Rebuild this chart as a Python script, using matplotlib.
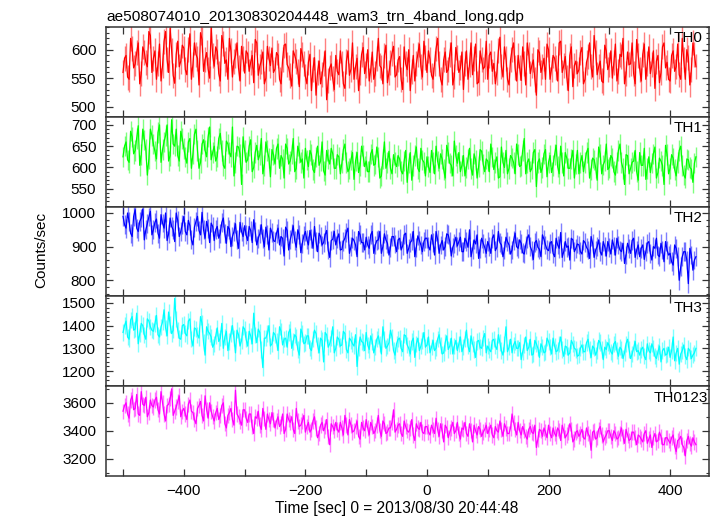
import numpy as np
import matplotlib
matplotlib.use("Agg")
import matplotlib.pyplot as plt
from matplotlib.ticker import MultipleLocator

plt.rcParams['font.family'] = ['Liberation Sans', 'DejaVu Sans']

title = "ae508074010_20130830204448_wam3_trn_4band_long.qdp"
xlabel = "Time [sec] 0 = 2013/08/30 20:44:48"
ylabel = "Counts/sec"

t_start = -500
t_step = 2.5

labels = ["TH0", "TH1", "TH2", "TH3", "TH0123"]
colors = ["#ff0000", "#00ff00", "#0000ff", "#00ffff", "#ff00ff"]
errors = [22, 24, 28, 36, 55]
ylims = [(482, 640), (508, 719), (752, 1019), (1133, 1529), (3076, 3719)]
ymajor = [50, 50, 100, 100, 200]
yminor = [10, 10, 20, 20, 100]

# bins at -500, -495, ...
th0_a = [560, 590, 548, 602, 575, 612, 558, 596, 570, 625,
         585, 548, 610, 572, 632, 560, 598, 541, 615, 580,
         603, 556, 628, 574, 592, 538, 618, 583, 566, 640,
         571, 597, 545, 611, 582, 620, 552, 590, 568, 606,
         559, 593, 578, 542, 612, 571, 596, 550, 585, 603,
         566, 590, 540, 608, 574, 555, 598, 580, 535, 592,
         553, 578, 528, 586, 560, 540, 575, 512, 568, 549,
         590, 556, 575, 532, 598, 566, 548, 585, 560, 604,
         572, 545, 596, 558, 620, 568, 590, 542, 578, 606,
         556, 588, 530, 575, 600, 562, 545, 592, 570, 615,
         560, 583, 548, 602, 575, 538, 596, 565, 612, 553,
         587, 568, 530, 598, 574, 556, 610, 543, 582, 570,
         548, 596, 576, 560, 622, 552, 585, 538, 600, 568,
         590, 546, 575, 612, 558, 582, 520, 595, 570, 548,
         600, 566, 585, 545, 615, 572, 552, 590, 535, 580,
         565, 604, 548, 588, 570, 625, 556, 580, 542, 598,
         574, 550, 610, 562, 588, 540, 596, 575, 558, 618,
         566, 592, 548, 605, 574, 532, 590, 560, 612, 578,
         545, 598, 570, 556, 620, 548, 586, 565, 592]
# bins at -497.5, -492.5, ...
th0_b = [585, 552, 620, 568, 595, 540, 605, 578, 632, 560,
         598, 575, 545, 615, 582, 638, 555, 592, 570, 608,
         565, 600, 548, 612, 585, 630, 562, 595, 550, 590,
         605, 558, 625, 576, 548, 598, 580, 612, 545, 585,
         598, 562, 590, 618, 555, 580, 540, 606, 572, 560,
         595, 548, 582, 610, 568, 536, 590, 562, 602, 575,
         540, 592, 566, 520, 580, 556, 598, 545, 575, 530,
         562, 598, 540, 580, 555, 612, 570, 528, 592, 558,
         600, 565, 548, 585, 572, 540, 608, 560, 594, 552,
         582, 548, 605, 565, 528, 590, 575, 610, 552, 586,
         598, 555, 575, 620, 548, 582, 560, 592, 538, 604,
         560, 596, 575, 548, 612, 585, 540, 598, 566, 615,
         590, 562, 540, 598, 570, 605, 548, 582, 612, 545,
         568, 605, 538, 592, 572, 548, 600, 560, 585, 610,
         548, 590, 568, 612, 560, 588, 528, 605, 572, 558,
         595, 540, 578, 612, 552, 596, 570, 545, 608, 565,
         598, 578, 545, 592, 620, 558, 574, 612, 540, 590,
         545, 610, 575, 558, 598, 580, 542, 605, 568, 548,
         590, 562, 610, 548, 582, 600, 538, 612, 570]

th1_a = [625, 660, 612, 672, 640, 698, 630, 665, 582, 690,
         655, 620, 700, 642, 675, 615, 712, 650, 628, 685,
         645, 610, 668, 632, 690, 598, 655, 640, 672, 618,
         650, 626, 680, 605, 662, 635, 695, 612, 648, 560,
         640, 618, 665, 600, 652, 630, 585, 660, 622, 642,
         608, 655, 628, 575, 645, 615, 668, 598, 635, 620,
         645, 602, 630, 588, 650, 615, 592, 640, 608, 632,
         598, 625, 610, 655, 590, 618, 572, 635, 605, 628,
         615, 590, 642, 608, 625, 580, 660, 612, 598, 630,
         602, 620, 585, 640, 610, 570, 628, 598, 645, 612,
         625, 588, 612, 650, 598, 620, 575, 635, 605, 662,
         610, 590, 628, 600, 645, 582, 618, 602, 638, 590,
         615, 655, 595, 625, 578, 612, 640, 598, 622, 585,
         630, 605, 668, 612, 590, 635, 555, 620, 600, 642,
         612, 588, 630, 602, 650, 580, 622, 598, 640, 608,
         585, 628, 612, 645, 595, 618, 570, 632, 606, 655,
         600, 622, 582, 640, 612, 560, 628, 598, 615, 590,
         635, 605, 572, 625, 610, 648, 588, 615, 560, 630,
         598, 622, 580, 640, 605, 575, 618, 596, 610]
th1_b = [650, 618, 685, 632, 668, 605, 690, 642, 620, 675,
         638, 682, 612, 660, 700, 628, 655, 690, 615, 668,
         625, 660, 598, 678, 640, 612, 665, 625, 695, 635,
         615, 668, 640, 598, 655, 625, 580, 650, 632, 672,
         612, 650, 590, 635, 618, 668, 605, 640, 578, 630,
         645, 598, 620, 655, 608, 632, 590, 650, 612, 575,
         618, 640, 595, 625, 605, 660, 582, 620, 645, 598,
         630, 585, 642, 612, 598, 635, 615, 588, 650, 602,
         590, 632, 605, 648, 575, 620, 598, 638, 585, 612,
         628, 592, 615, 565, 635, 605, 648, 590, 618, 580,
         602, 640, 585, 615, 632, 595, 652, 610, 580, 628,
         635, 605, 580, 620, 598, 632, 575, 642, 608, 620,
         590, 625, 612, 575, 648, 600, 585, 628, 612, 655,
         602, 640, 585, 620, 598, 642, 612, 588, 632, 578,
         628, 605, 652, 585, 612, 635, 598, 620, 575, 640,
         612, 590, 635, 575, 622, 600, 648, 585, 615, 595,
         628, 590, 612, 655, 598, 630, 585, 612, 640, 570,
         605, 645, 598, 588, 632, 575, 622, 605, 652, 585,
         630, 595, 612, 650, 582, 620, 600, 565, 625]

th2_a = [990, 955, 975, 930, 1010, 945, 985, 920, 968, 1005,
         950, 982, 925, 970, 1000, 938, 960, 915, 978, 945,
         990, 935, 962, 905, 975, 948, 1002, 925, 955, 970,
         918, 960, 940, 985, 910, 952, 930, 968, 895, 945,
         962, 918, 948, 980, 905, 938, 925, 958, 890, 942,
         915, 955, 930, 872, 948, 920, 962, 898, 935, 910,
         945, 905, 925, 960, 885, 930, 912, 948, 868, 922,
         905, 938, 892, 925, 955, 900, 918, 870, 935, 912,
         928, 895, 945, 905, 920, 880, 938, 910, 898, 930,
         885, 925, 902, 940, 895, 918, 870, 932, 905, 915,
         925, 890, 912, 945, 880, 918, 900, 935, 872, 910,
         902, 928, 885, 915, 950, 892, 908, 865, 925, 898,
         915, 880, 935, 898, 912, 870, 928, 905, 890, 940,
         895, 910, 878, 925, 900, 862, 918, 892, 935, 905,
         888, 915, 870, 905, 942, 885, 898, 860, 920, 895,
         905, 878, 912, 890, 930, 868, 900, 885, 915, 872,
         898, 920, 875, 905, 885, 850, 910, 880, 925, 890,
         870, 905, 885, 915, 860, 895, 875, 910, 855, 890,
         880, 845, 895, 800, 870, 885, 790, 875, 860]
th2_b = [965, 1000, 940, 990, 955, 975, 1012, 950, 988, 935,
         972, 940, 995, 955, 918, 985, 950, 1000, 930, 965,
         945, 978, 920, 958, 990, 935, 950, 975, 912, 960,
         950, 925, 972, 938, 960, 900, 945, 920, 972, 930,
         935, 960, 912, 945, 925, 965, 900, 935, 955, 918,
         940, 905, 925, 958, 890, 938, 918, 950, 882, 932,
         920, 948, 895, 915, 940, 905, 935, 890, 918, 945,
         925, 890, 915, 942, 880, 925, 905, 945, 912, 890,
         905, 935, 880, 918, 945, 900, 920, 875, 930, 908,
         920, 890, 935, 880, 912, 945, 898, 918, 885, 925,
         900, 935, 875, 922, 905, 890, 938, 915, 898, 928,
         915, 885, 925, 898, 870, 920, 935, 895, 910, 880,
         900, 925, 888, 945, 905, 890, 915, 878, 918, 900,
         920, 882, 905, 935, 888, 912, 898, 870, 922, 892,
         910, 880, 925, 895, 868, 915, 902, 925, 885, 908,
         885, 918, 898, 865, 910, 890, 920, 875, 900, 915,
         878, 902, 925, 890, 910, 875, 895, 918, 868, 905,
         895, 862, 910, 880, 900, 925, 870, 890, 915, 875,
         855, 905, 870, 840, 885, 860, 895, 830, 870]

th3_a = [1370, 1420, 1340, 1440, 1385, 1320, 1410, 1360, 1430, 1395,
         1375, 1445, 1350, 1415, 1390, 1460, 1365, 1520, 1380, 1340,
         1405, 1355, 1430, 1310, 1385, 1345, 1410, 1270, 1375, 1350,
         1320, 1390, 1345, 1300, 1375, 1330, 1400, 1280, 1360, 1335,
         1385, 1310, 1355, 1455, 1325, 1370, 1215, 1345, 1400, 1320,
         1360, 1290, 1375, 1340, 1305, 1385, 1330, 1350, 1270, 1365,
         1325, 1355, 1290, 1380, 1315, 1345, 1240, 1360, 1320, 1395,
         1300, 1340, 1315, 1365, 1280, 1335, 1310, 1220, 1350, 1325,
         1370, 1295, 1330, 1305, 1355, 1275, 1340, 1310, 1380, 1290,
         1320, 1345, 1285, 1355, 1300, 1330, 1260, 1345, 1310, 1370,
         1315, 1280, 1335, 1300, 1360, 1275, 1325, 1295, 1345, 1310,
         1290, 1350, 1305, 1380, 1285, 1320, 1260, 1335, 1300, 1365,
         1310, 1285, 1340, 1295, 1325, 1270, 1395, 1305, 1280, 1330,
         1300, 1250, 1315, 1290, 1340, 1275, 1320, 1260, 1305, 1285,
         1330, 1275, 1310, 1290, 1350, 1265, 1305, 1280, 1320, 1295,
         1270, 1315, 1285, 1340, 1260, 1300, 1290, 1325, 1250, 1295,
         1310, 1275, 1330, 1265, 1295, 1280, 1340, 1255, 1300, 1285,
         1270, 1305, 1250, 1290, 1320, 1265, 1285, 1240, 1300, 1275,
         1260, 1350, 1280, 1230, 1290, 1265, 1300, 1255, 1280]
th3_b = [1400, 1350, 1425, 1380, 1455, 1365, 1400, 1340, 1420, 1380,
         1410, 1360, 1395, 1470, 1355, 1405, 1380, 1430, 1345, 1400,
         1365, 1420, 1340, 1390, 1360, 1440, 1325, 1395, 1365, 1305,
         1355, 1330, 1410, 1350, 1290, 1365, 1345, 1380, 1310, 1395,
         1340, 1375, 1320, 1360, 1385, 1295, 1345, 1365, 1310, 1370,
         1330, 1395, 1315, 1345, 1370, 1300, 1360, 1295, 1385, 1320,
         1355, 1300, 1340, 1365, 1280, 1335, 1370, 1305, 1345, 1280,
         1350, 1310, 1375, 1295, 1345, 1320, 1360, 1300, 1330, 1290,
         1315, 1355, 1280, 1340, 1320, 1395, 1300, 1325, 1350, 1270,
         1340, 1300, 1360, 1315, 1275, 1345, 1320, 1290, 1335, 1305,
         1350, 1305, 1290, 1340, 1315, 1280, 1355, 1310, 1275, 1335,
         1320, 1285, 1340, 1310, 1355, 1295, 1330, 1305, 1345, 1280,
         1295, 1335, 1310, 1360, 1290, 1320, 1285, 1340, 1315, 1300,
         1325, 1285, 1350, 1305, 1270, 1335, 1300, 1320, 1280, 1345,
         1305, 1345, 1285, 1320, 1295, 1310, 1270, 1335, 1300, 1265,
         1300, 1285, 1325, 1295, 1310, 1270, 1335, 1295, 1305, 1325,
         1285, 1320, 1290, 1305, 1255, 1320, 1295, 1275, 1330, 1290,
         1295, 1265, 1320, 1280, 1300, 1255, 1310, 1290, 1270, 1305,
         1290, 1245, 1300, 1275, 1315, 1250, 1290, 1270, 1300]

th0123_a = [3540, 3600, 3490, 3650, 3560, 3520, 3680, 3580, 3500, 3620,
            3570, 3640, 3520, 3600, 3470, 3590, 3700, 3540, 3610, 3500,
            3560, 3480, 3620, 3530, 3450, 3580, 3510, 3650, 3490, 3540,
            3470, 3560, 3510, 3600, 3420, 3530, 3480, 3690, 3500, 3440,
            3550, 3460, 3520, 3380, 3490, 3440, 3560, 3410, 3480, 3530,
            3420, 3500, 3450, 3380, 3520, 3460, 3410, 3560, 3430, 3470,
            3390, 3460, 3410, 3500, 3350, 3440, 3400, 3480, 3300, 3430,
            3460, 3390, 3420, 3510, 3370, 3440, 3400, 3470, 3340, 3420,
            3480, 3370, 3430, 3400, 3510, 3360, 3450, 3390, 3420, 3550,
            3410, 3450, 3360, 3430, 3390, 3480, 3330, 3420, 3460, 3380,
            3430, 3370, 3410, 3490, 3360, 3400, 3440, 3350, 3420, 3380,
            3460, 3340, 3410, 3380, 3450, 3320, 3400, 3430, 3360, 3410,
            3380, 3440, 3350, 3400, 3470, 3360, 3420, 3380, 3520, 3410,
            3460, 3370, 3400, 3340, 3430, 3380, 3280, 3410, 3360, 3390,
            3440, 3350, 3380, 3420, 3330, 3400, 3370, 3450, 3320, 3390,
            3360, 3410, 3340, 3380, 3260, 3400, 3350, 3430, 3320, 3370,
            3400, 3330, 3380, 3350, 3420, 3310, 3370, 3340, 3390, 3300,
            3360, 3320, 3400, 3340, 3280, 3380, 3330, 3360, 3300, 3350,
            3310, 3370, 3250, 3340, 3300, 3220, 3360, 3290, 3320]
th0123_b = [3580, 3520, 3620, 3550, 3660, 3510, 3590, 3640, 3530, 3580,
            3620, 3550, 3680, 3520, 3580, 3630, 3510, 3570, 3650, 3540,
            3520, 3590, 3540, 3480, 3560, 3610, 3470, 3550, 3600, 3500,
            3530, 3480, 3580, 3450, 3510, 3560, 3440, 3520, 3470, 3550,
            3490, 3520, 3430, 3500, 3540, 3410, 3490, 3520, 3450, 3480,
            3470, 3430, 3520, 3410, 3480, 3500, 3380, 3470, 3440, 3510,
            3430, 3390, 3470, 3420, 3380, 3460, 3430, 3360, 3450, 3400,
            3410, 3460, 3370, 3440, 3480, 3390, 3430, 3360, 3460, 3400,
            3420, 3460, 3380, 3440, 3400, 3470, 3380, 3420, 3460, 3390,
            3440, 3380, 3470, 3400, 3420, 3370, 3450, 3410, 3390, 3430,
            3390, 3440, 3380, 3410, 3450, 3320, 3420, 3390, 3460, 3400,
            3380, 3420, 3460, 3360, 3400, 3440, 3370, 3410, 3390, 3440,
            3410, 3370, 3430, 3390, 3410, 3450, 3380, 3420, 3460, 3370,
            3400, 3430, 3360, 3410, 3390, 3440, 3340, 3400, 3420, 3350,
            3380, 3420, 3360, 3400, 3440, 3350, 3390, 3410, 3340, 3400,
            3380, 3350, 3420, 3360, 3390, 3340, 3410, 3370, 3350, 3400,
            3360, 3400, 3340, 3380, 3360, 3410, 3330, 3390, 3350, 3370,
            3340, 3380, 3310, 3370, 3350, 3320, 3390, 3300, 3350, 3330,
            3350, 3290, 3330, 3360, 3280, 3330, 3310, 3350, 3300]

series = [(th0_a, th0_b), (th1_a, th1_b), (th2_a, th2_b),
          (th3_a, th3_b), (th0123_a, th0123_b)]


def interleave(a, b):
    out = np.empty(len(a) + len(b), dtype=float)
    out[0::2] = a
    out[1::2] = b
    return out


W, H = 717, 516
fig = plt.figure(figsize=(W / 100, H / 100), dpi=100)
left, right, top, bottom = 106 / W, 709 / W, 1 - 27 / H, 1 - 476 / H
n = len(series)
ph = (top - bottom) / n
label_right = [702, 702, 702, 702, 708]
axes = []
for i in range(n):
    ax = fig.add_axes([left, top - (i + 1) * ph, right - left, ph])
    axes.append(ax)
    vals = interleave(*series[i])
    t = t_start + t_step * np.arange(len(vals))
    ax.errorbar(t, vals, yerr=errors[i], fmt='none', ecolor=colors[i],
                alpha=0.5, elinewidth=1.0, capsize=0)
    ax.plot(t, vals, color=colors[i], lw=0.9)
    ax.set_xlim(-528, 464)
    ax.set_ylim(*ylims[i])
    ax.yaxis.set_major_locator(MultipleLocator(ymajor[i]))
    ax.yaxis.set_minor_locator(MultipleLocator(yminor[i]))
    ax.xaxis.set_major_locator(MultipleLocator(200))
    ax.xaxis.set_minor_locator(MultipleLocator(100))
    ax.tick_params(axis='both', which='both', direction='in', top=True, right=True,
                   labelsize=11, colors='#333333', labelcolor='black')
    ax.tick_params(axis='y', which='major', length=5, width=0.9, pad=7)
    ax.tick_params(axis='y', which='minor', length=2.5, width=0.8)
    ax.tick_params(axis='x', which='both', length=5, width=0.9, pad=6)
    for sp in ax.spines.values():
        sp.set_color('#333333')
        sp.set_linewidth(1.1)
    if i < n - 1:
        ax.tick_params(axis='x', labelbottom=False)
    xr = (label_right[i] - 106) / (709 - 106)
    ax.text(xr, 0.95, labels[i], transform=ax.transAxes, ha='right', va='top',
            fontsize=11)

axes[0].set_title(title, loc='left', fontsize=11.1, pad=4)
fig.text(397 / W, 1 - 508 / H, xlabel, ha='center', va='center', fontsize=11.2)
fig.text(41 / W, 1 - 250 / H, ylabel, ha='center', va='center', rotation=90, fontsize=11)

fig.savefig("out.png", dpi=100)
